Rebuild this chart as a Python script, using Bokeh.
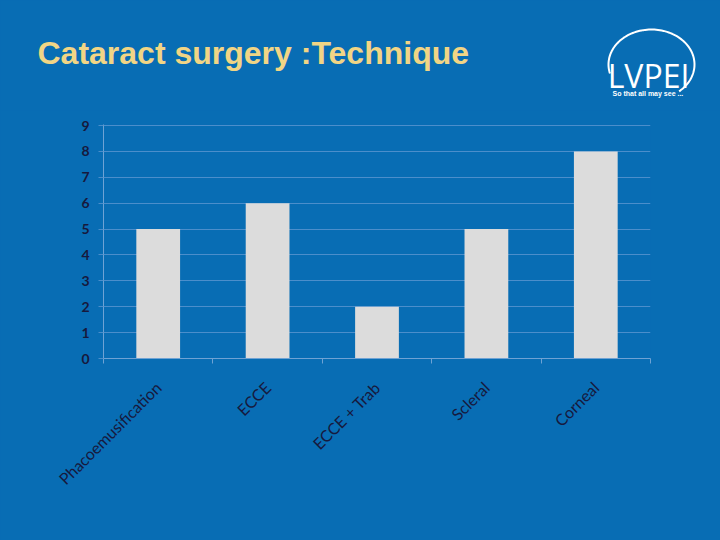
import numpy as np
from bokeh.plotting import figure
from bokeh.layouts import column
from bokeh.models import Range1d, FixedTicker
from bokeh.core.properties import value
from bokeh.embed import file_html
from bokeh.resources import INLINE

# ---- data ----
categories = ["Phacoemusification", "ECCE", "ECCE + Trab", "Scleral", "Corneal"]
counts = [5, 6, 2, 5, 8]
y_ticks = [0, 1, 2, 3, 4, 5, 6, 7, 8, 9]
title_text = ["Cataract surgery :Technique"]
logo_text = ["LVPEI"]
logo_tagline = ["So that all may see ..."]

# ---- style ----
BG = "#086db4"
GRID = "#4b8ecb"
AXIS = "#6ea2d4"
BAR = "#dcdcdc"
LABEL = "#17193d"
TITLE = "#f1d585"

W, H = 720, 540
HEAD = 110
FX0, FX1, FY0, FY1 = 103, 650, 358, 124   # frame edges in page coordinates
XMAX = len(categories)
YMAX = y_ticks[-1] + 0.04                  # small headroom so the top grid line shows

# ---- header (title + logo), page coordinates ----
head = figure(width=W, height=HEAD, x_range=Range1d(0, W), y_range=Range1d(HEAD, 0),
              min_border=0, output_backend="svg", toolbar_location=None)
head.frame_align = False
head.xaxis.visible = False
head.yaxis.visible = False
head.grid.visible = False
head.outline_line_color = None
head.background_fill_color = BG
head.border_fill_color = BG

head.text(x=[37], y=[52], text=title_text, text_font=value("Liberation Sans"),
          text_font_style="bold", text_font_size="32px", text_color=TITLE,
          text_align="left", text_baseline="alphabetic")

t = np.radians(np.linspace(195, -50, 100))
head.line(x=651 + 43 * np.cos(t), y=64 - 35 * np.sin(t), line_color="white", line_width=2)
head.text(x=[648], y=[75], text=logo_text, text_font=value("Open Sans"),
          text_font_size="32px", text_color="white",
          text_align="center", text_baseline="alphabetic")
head.text(x=[612], y=[93], text=logo_tagline, text_font=value("Liberation Sans"),
          text_font_style="bold", text_font_size="7px", text_color="white",
          text_align="left", text_baseline="alphabetic")

# ---- chart ----
xs = [i + 0.5 for i in range(len(categories))]

p = figure(width=W, height=H - HEAD,
           frame_width=FX1 - FX0, frame_height=FY0 - FY1,
           min_border_left=FX0, min_border_right=W - FX1,
           min_border_top=FY1 - HEAD, min_border_bottom=H - FY0,
           x_range=Range1d(0, XMAX), y_range=Range1d(0, YMAX),
           output_backend="svg", toolbar_location=None)
p.frame_align = False
p.background_fill_color = BG
p.border_fill_color = BG
p.outline_line_color = None

p.vbar(x=xs, top=counts, width=0.4, fill_color=BAR, line_color=None)

# x axis
p.xaxis.ticker = FixedTicker(ticks=xs, minor_ticks=list(range(XMAX + 1)))
p.xaxis.major_label_overrides = {x: c for x, c in zip(xs, categories)}
p.xaxis.major_label_orientation = np.pi / 4
p.xaxis.major_tick_line_color = None
p.xaxis.minor_tick_line_color = AXIS
p.xaxis.minor_tick_out = 5
p.xaxis.minor_tick_in = 0
p.xaxis.axis_line_color = AXIS
p.xaxis.major_label_text_font = "Lato"
p.xaxis.major_label_text_font_size = "16px"
p.xaxis.major_label_text_color = LABEL
p.xaxis.major_label_standoff = 20

# y axis
p.yaxis.ticker = FixedTicker(ticks=y_ticks, minor_ticks=[])
p.yaxis.major_tick_line_color = GRID
p.yaxis.major_tick_out = 5
p.yaxis.major_tick_in = 0
p.yaxis.axis_line_color = AXIS
p.yaxis.major_label_text_font = "Lato"
p.yaxis.major_label_text_font_size = "14px"
p.yaxis.major_label_text_font_style = "bold"
p.yaxis.major_label_text_color = LABEL
p.yaxis.major_label_standoff = 9

p.xgrid.visible = False
p.ygrid.ticker = FixedTicker(ticks=y_ticks)
p.ygrid.grid_line_color = GRID

layout = column(head, p, spacing=0)
html = file_html(layout, INLINE)
style = "<style>html, body { background: %s !important; }</style>" % BG
html = html.replace("</head>", style + "</head>", 1)
open("out.html", "w").write(html)
